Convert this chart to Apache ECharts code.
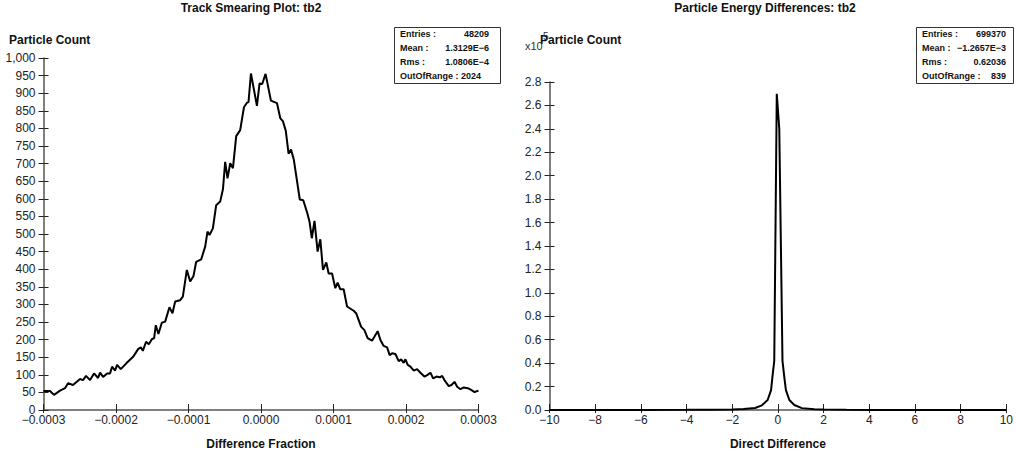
<!DOCTYPE html>
<html>
<head>
<meta charset="utf-8">
<script src="https://cdn.jsdelivr.net/npm/echarts@6/dist/echarts.min.js"></script>
<style>
html,body{margin:0;padding:0;background:#fff;}
#c{width:1016px;height:456px;}
</style>
</head>
<body>
<div id="c"></div>
<script>
// ---------- Left panel: Track Smearing Plot (x in units of 1e-6) ----------
const leftX = [-300,-291,-285.5,-277.2,-270.3,-266.2,-259.3,-249.6,-245.5,-241.3,-235.8,-230.3,-224.7,-222.0,-217.8,-212.3,-208.2,-205.4,-201.3,-198.5,-193.4,-185.1,-176.4,-169.5,-165.8,-163.0,-158.5,-154.7,-150.6,-147.4,-145.1,-141.5,-136.8,-132.2,-126.3,-122.1,-118.4,-111.5,-107.8,-102.3,-97.7,-93.1,-89.4,-82.5,-77.0,-73.8,-71.0,-66.4,-61.8,-56.3,-52.5,-49.4,-46.2,-42.5,-38.7,-34.2,-28.7,-23.5,-19.4,-17.2,-13.9,-5.6,-2.0,1.7,6.3,13.7,22.0,26.6,30.3,34.2,38.0,41.4,45.2,53.5,58.3,63.9,67.0,70.1,73.8,78.1,81.8,85.5,90.1,93.3,98.0,102.5,105.7,109.4,114.0,118.7,127.8,131.5,138.0,142.6,147.1,153.2,156.4,160.9,164.7,169.2,173.9,177.5,180.8,185.4,189.9,193.3,196.8,199.2,202.4,206.1,210.7,215.3,219.9,225.4,229.2,233.7,237.4,242.0,246.6,249.9,253.0,259.0,262.7,266.9,270.6,275.1,279.7,285.2,289.9,294.5,300];
const leftY = [54,54,43,55,62,76,71,88,85,97,85,104,91,106,94,104,104,123,112,128,116,134,151,173,178,168,194,187,201,204,241,216,248,251,292,275,308,312,322,398,365,381,421,428,464,507,497,516,582,592,627,705,658,701,687,778,795,860,873,875,956,864,928,926,955,879,872,829,820,793,728,740,712,598,596,559,534,488,537,450,485,398,419,388,388,346,362,343,343,294,282,274,237,227,204,197,208,224,199,182,178,156,161,159,139,144,134,144,128,123,112,116,106,95,99,106,90,95,93,97,85,68,71,80,66,59,64,62,57,51,55,55];
const leftStats = [["Entries :", "48209"], ["Mean :", "1.3129E\u22126"], ["Rms :", "1.0806E\u22124"], ["OutOfRange : 2024", ""]];

// ---------- Right panel: Particle Energy Differences ----------
const rightX = [-10,-6,-4,-3,-2,-1.5,-1.0,-0.7,-0.45,-0.3,-0.23,-0.16,-0.05,0.06,0.2,0.28,0.35,0.5,0.72,1.05,1.6,2,3,4,6,10];
const rightY = [0,100,200,300,500,900,1700,4000,8500,17000,30000,42000,270000,240000,42000,28000,17000,8500,4300,1600,600,400,200,100,50,0];
const rightStats = [["Entries :", "699370"], ["Mean :", "\u22121.2657E\u22123"], ["Rms :", "0.62036"], ["OutOfRange :", "839"]];

const FONT = 'Liberation Sans, Arial, Helvetica, sans-serif';
const minus = s => s.replace(/-/g, '\u2212');
const withCommas = v => String(v).replace(/\B(?=(\d{3})+(?!\d))/g, ',');

const axisLineStyle = {color: '#555', width: 1.5};
const tickStyle = {color: '#222', width: 1};
const labelStyle = {color: '#222', fontSize: 12, fontFamily: FONT};

function xAxes(grid, min, max, interval, name, fmt) {
  return [{
    type: 'value', gridIndex: grid, position: 'bottom', min, max, interval,
    name, nameLocation: 'middle', nameGap: 28,
    nameTextStyle: {fontWeight: 'bold', fontSize: 12, color: '#111', fontFamily: FONT},
    axisLine: {show: true, onZero: false, lineStyle: axisLineStyle},
    axisTick: {show: true, inside: false, length: 3, lineStyle: tickStyle},
    axisLabel: {show: true, margin: 4, formatter: fmt, ...labelStyle, showMinLabel: true, showMaxLabel: true},
    splitLine: {show: false}
  }, {
    type: 'value', gridIndex: grid, position: 'bottom', min, max, interval,
    axisLine: {show: false, onZero: false},
    axisTick: {show: true, inside: true, length: 6, lineStyle: tickStyle},
    axisLabel: {show: false}, splitLine: {show: false}
  }];
}
function yAxes(grid, min, max, interval, fmt) {
  return [{
    type: 'value', gridIndex: grid, position: 'left', min, max, interval,
    axisLine: {show: true, onZero: false, lineStyle: axisLineStyle},
    axisTick: {show: true, inside: false, length: 5, lineStyle: tickStyle},
    axisLabel: {show: true, margin: 8, formatter: fmt, ...labelStyle},
    splitLine: {show: false}
  }, {
    type: 'value', gridIndex: grid, position: 'left', min, max, interval,
    axisLine: {show: false, onZero: false},
    axisTick: {show: true, inside: true, length: 5, lineStyle: tickStyle},
    axisLabel: {show: false}, splitLine: {show: false}
  }];
}

function statsBox(x, y, w, h, rows, valRight) {
  const els = [{
    type: 'rect', shape: {x: x + 0.5, y: y + 0.5, width: w, height: h},
    style: {fill: '#fff', stroke: '#333', lineWidth: 1}, z: 100
  }];
  rows.forEach((r, i) => {
    const ty = y + 7 + i * 14;
    els.push({type: 'text', x: x + 6, y: ty, z: 101,
      style: {text: r[0], font: 'bold 9px ' + FONT, fill: '#111', textAlign: 'left', textVerticalAlign: 'middle'}});
    if (r[1]) els.push({type: 'text', x: valRight, y: ty, z: 101,
      style: {text: r[1], font: 'bold 9px ' + FONT, fill: '#111', textAlign: 'right', textVerticalAlign: 'middle'}});
  });
  return els;
}

const chart = echarts.init(document.getElementById('c'), null, {renderer: 'svg'});
const option = {
  animation: false,
  backgroundColor: '#fff',
  grid: [
    {left: 43.5, top: 58, width: 435, height: 352, containLabel: false},
    {left: 549.5, top: 82, width: 458, height: 328, containLabel: false}
  ],
  xAxis: [
    ...xAxes(0, -300, 300, 100, 'Difference Fraction', v => minus((v / 1e6).toFixed(4))),
    ...xAxes(1, -10, 10, 2, 'Direct Difference', v => minus(String(v)))
  ],
  yAxis: [
    ...yAxes(0, 0, 1000, 50, v => withCommas(v)),
    ...yAxes(1, 0, 280000, 20000, v => (v / 1e5).toFixed(1))
  ],
  series: [
    {type: 'line', xAxisIndex: 0, yAxisIndex: 0, symbol: 'none', z: 5,
     lineStyle: {color: '#000', width: 2}, data: leftX.map((x, i) => [x, leftY[i]])},
    {type: 'line', xAxisIndex: 2, yAxisIndex: 2, symbol: 'none', z: 5,
     lineStyle: {color: '#000', width: 2}, data: rightX.map((x, i) => [x, rightY[i]])}
  ],
  graphic: [
    {type: 'text', x: 251, y: 8, style: {text: 'Track Smearing Plot: tb2', font: 'bold 12px ' + FONT, fill: '#111', textAlign: 'center', textVerticalAlign: 'middle'}},
    {type: 'text', x: 765, y: 8, style: {text: 'Particle Energy Differences: tb2', font: 'bold 12px ' + FONT, fill: '#111', textAlign: 'center', textVerticalAlign: 'middle'}},
    {type: 'text', x: 9, y: 40, style: {text: 'Particle Count', font: 'bold 12px ' + FONT, fill: '#111', textAlign: 'left', textVerticalAlign: 'middle'}},
    {type: 'text', x: 540, y: 40, z: 1, style: {text: 'Particle Count', font: 'bold 12px ' + FONT, fill: '#111', textAlign: 'left', textVerticalAlign: 'middle'}},
    {type: 'text', x: 525, y: 46, z: 2, style: {text: 'x10', font: '11px ' + FONT, fill: '#333', textAlign: 'left', textVerticalAlign: 'middle'}},
    {type: 'text', x: 543, y: 36, z: 3, style: {text: '5', font: '10px ' + FONT, fill: '#333', textAlign: 'left', textVerticalAlign: 'middle'}},
    ...statsBox(394, 27, 106, 56, leftStats, 489),
    ...statsBox(916, 27, 97, 56, rightStats, 1006)
  ]
};
chart.setOption(option);
</script>
</body>
</html>
